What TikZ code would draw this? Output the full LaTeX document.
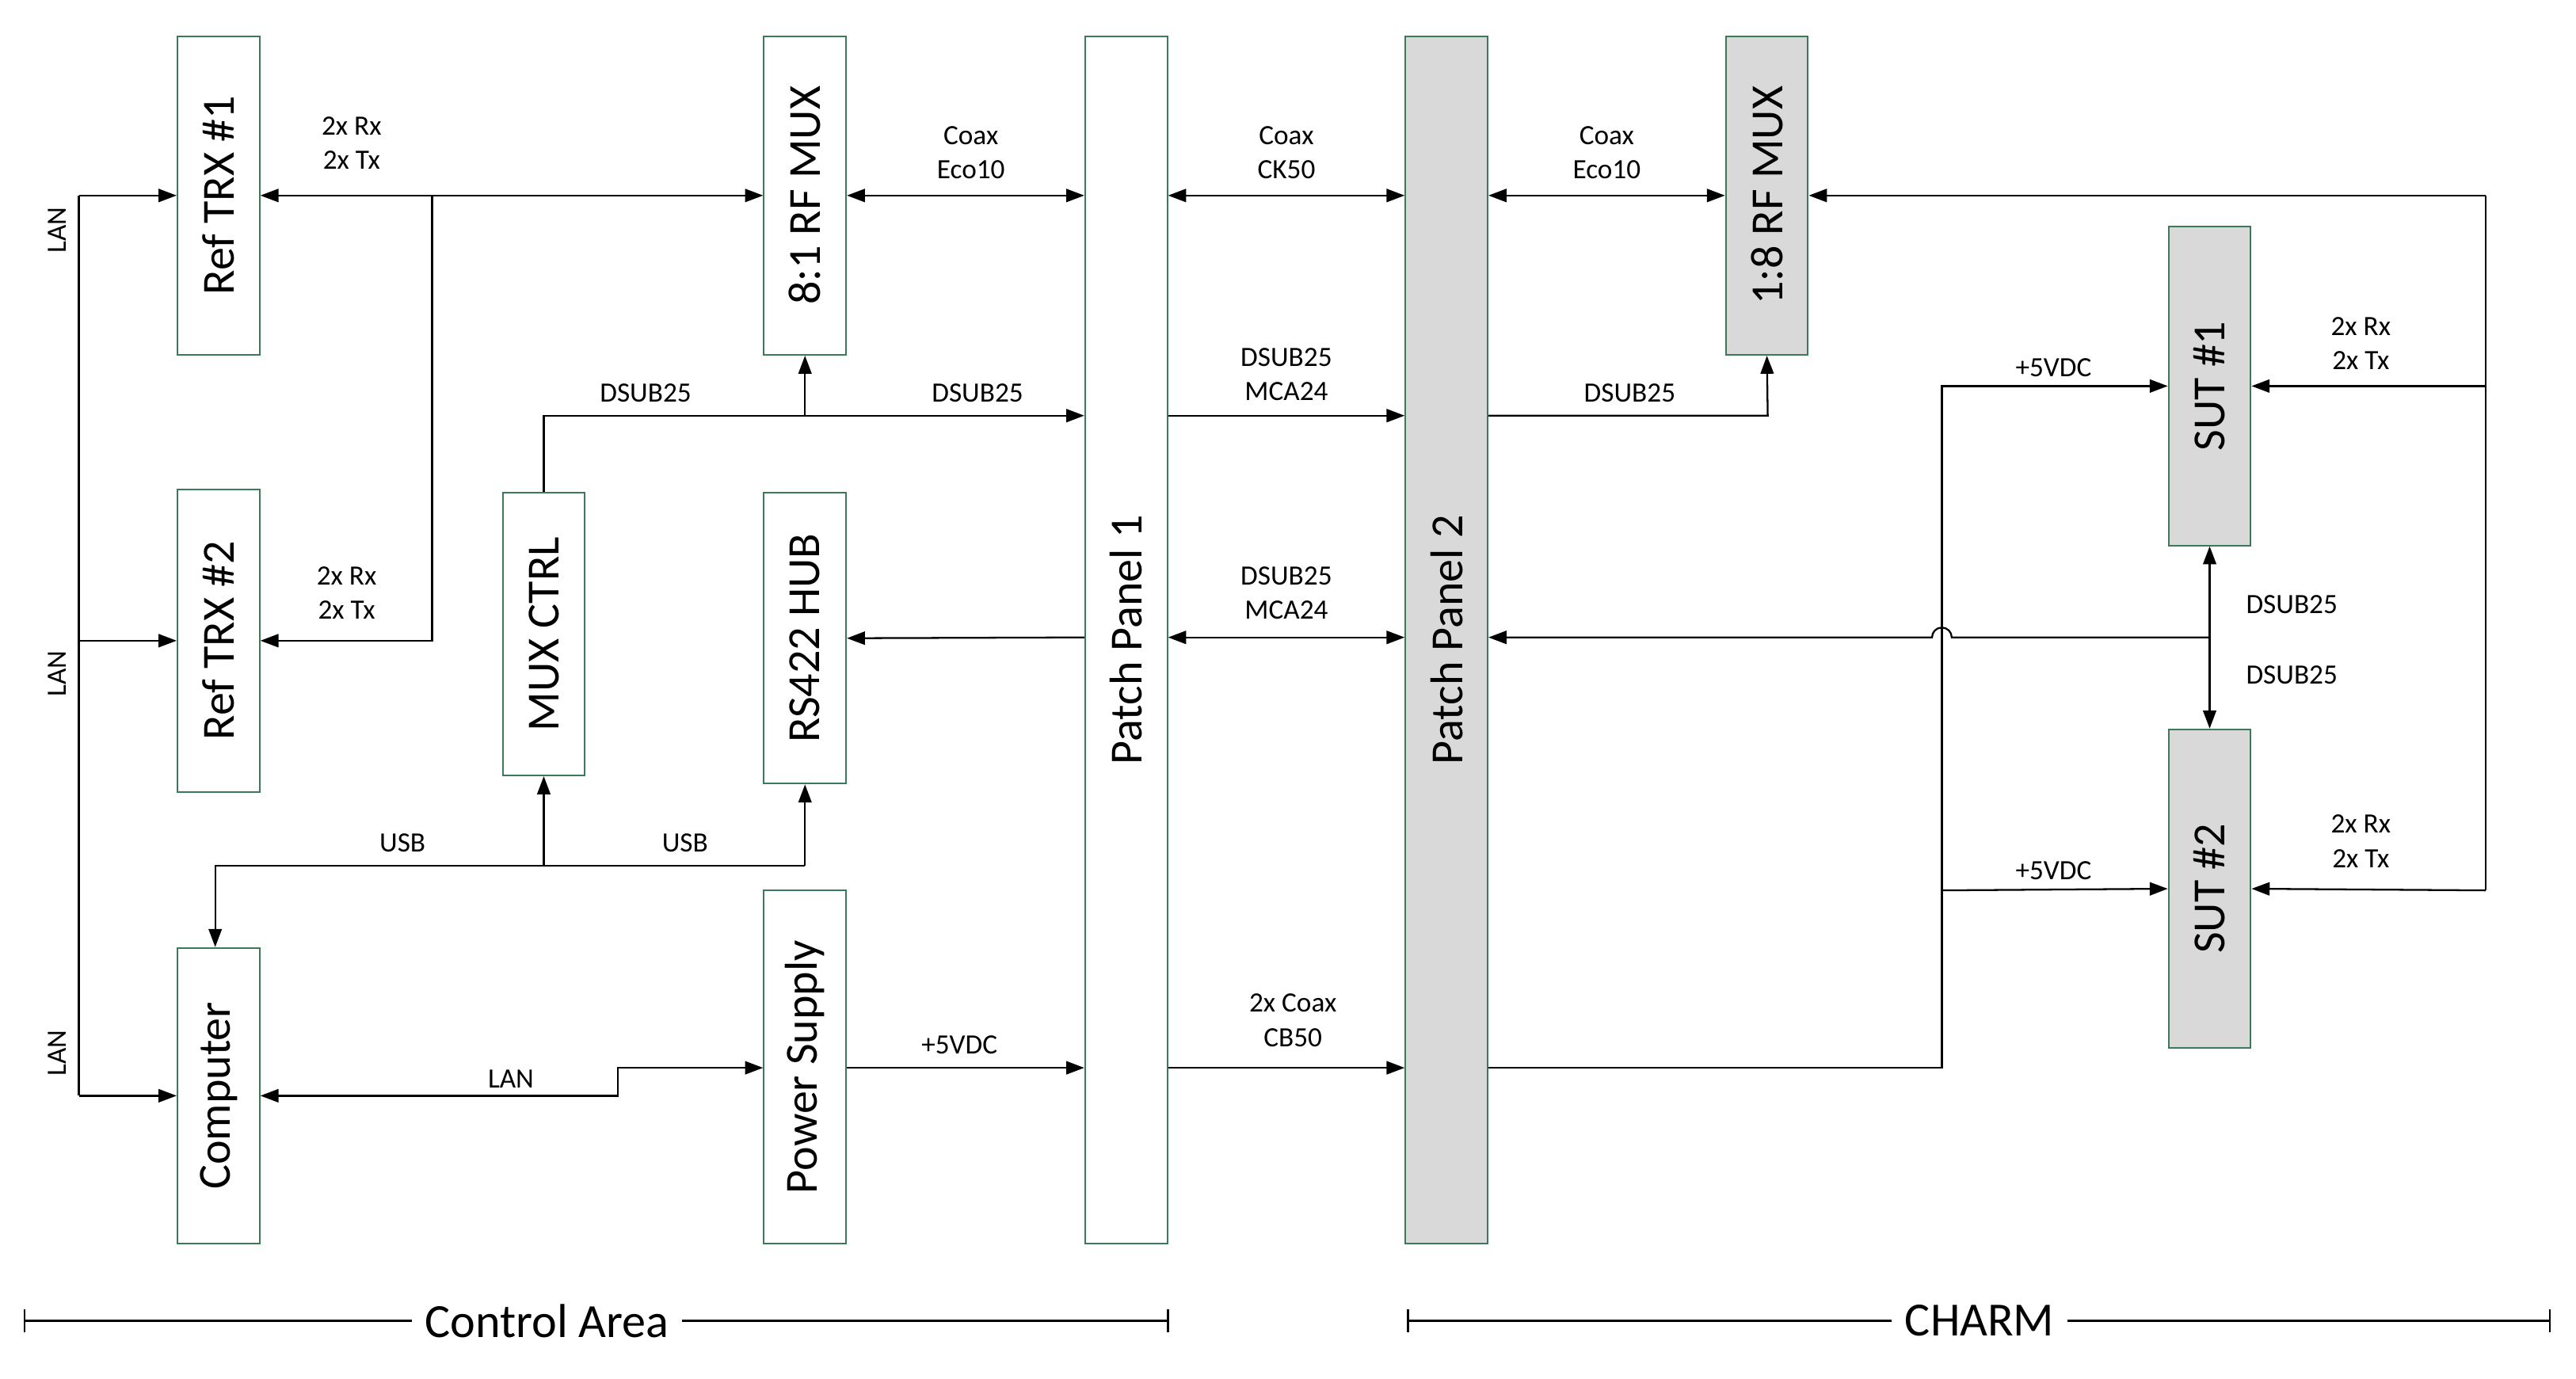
\documentclass[tikz,border=0pt]{standalone}
\usepackage{fontspec}
\setmainfont{Carlito}
\usetikzlibrary{arrows.meta}
\definecolor{bgreen}{RGB}{60,120,90}
\definecolor{bgray}{RGB}{217,217,217}
\begin{document}
\begin{tikzpicture}[x=1pt,y=-1pt,
  box/.style={draw=bgreen,line width=1pt,inner sep=0pt,minimum width=50pt,font=\fontsize{28}{30}\selectfont},
  gbox/.style={box,fill=bgray},
  con/.style={line width=1.1pt},
  ar/.style={con,-{Triangle[length=11pt,width=8pt]}},
  dar/.style={con,{Triangle[length=11pt,width=8pt]}-{Triangle[length=11pt,width=8pt]}},
  lab/.style={font=\fontsize{17}{21}\selectfont,align=center,inner sep=0pt},
  big/.style={font=\fontsize{29}{32}\selectfont,fill=white,inner xsep=8pt}]
\useasboundingbox (0,0) rectangle (1568,839);
% boxes
\node[box,minimum height=194pt] (ref1) at (133,119) {\rotatebox{90}{Ref TRX \#1}};
\node[box,minimum height=184pt] (ref2) at (133,390) {\rotatebox{90}{Ref TRX \#2}};
\node[box,minimum height=180pt] (comp) at (133,667) {\rotatebox{90}{Computer}};
\node[box,minimum height=172pt] (mctrl) at (331,386) {\rotatebox{90}{MUX CTRL}};
\node[box,minimum height=194pt] (mux1) at (490,119) {\rotatebox{90}{8:1 RF MUX}};
\node[box,minimum height=177pt] (hub) at (490,388.5) {\rotatebox{90}{RS422 HUB}};
\node[box,minimum height=215pt] (ps) at (490,649.5) {\rotatebox{90}{Power Supply}};
\node[box,minimum height=735pt] (pp1) at (685.5,389.5) {\rotatebox{90}{Patch Panel 1}};
\node[gbox,minimum height=735pt] (pp2) at (880.5,389.5) {\rotatebox{90}{Patch Panel 2}};
\node[gbox,minimum height=194pt] (mux2) at (1075.5,119) {\rotatebox{90}{1:8 RF MUX}};
\node[gbox,minimum height=194pt] (sut1) at (1345,235) {\rotatebox{90}{SUT \#1}};
\node[gbox,minimum height=194pt] (sut2) at (1345,541) {\rotatebox{90}{SUT \#2}};
% LAN bus
\coordinate (lt) at (48,119);
\coordinate (lb) at (48,667);
\draw[con] (lt) -- (lb);
\draw[ar] (lt) -- (ref1.west);
\draw[ar] (48,390) -- (ref2.west);
\draw[ar] (lb) -- (comp.west);
\node[lab,rotate=90] (lan1) at (35,140) {LAN};
\node[lab,rotate=90] (lan2) at (35,410) {LAN};
\node[lab,rotate=90] (lan3) at (35,641) {LAN};
% RF
\draw[dar] (ref1.east) -- (mux1.west);
\coordinate (j1) at (263,119);
\draw[ar] (j1) -- (263,390) -- (ref2.east);
\node[lab] (l1) at (214,87) {2x Rx\\2x Tx};
\node[lab] (l2) at (211,361) {2x Rx\\2x Tx};
\draw[dar] (mux1.east) -- (pp1.west |- mux1.east);
\node[lab] (l3) at (591,93) {Coax\\Eco10};
\draw[dar] (pp1.east |- 0,119) -- (pp2.west |- 0,119);
\node[lab] (l4) at (783,93) {Coax\\CK50};
\draw[dar] (pp2.east |- 0,119) -- (mux2.west);
\node[lab] (l5) at (978,93) {Coax\\Eco10};
\coordinate (rr) at (1513,119);
\draw[ar] (rr) -- (mux2.east);
\draw[con] (rr) -- (1513,542);
\draw[ar] (1513,235) -- (sut1.east);
\draw[ar] (1513,542) -- (sut2.east);
\node[lab] (l6) at (1437,209) {2x Rx\\2x Tx};
\node[lab] (l7) at (1437,512) {2x Rx\\2x Tx};
% DSUB
\draw[ar] (mctrl.north) -- (331,253) -- (pp1.west |- 0,253);
\draw[ar] (490,253) -- (mux1.south);
\node[lab] (l8) at (393,239) {DSUB25};
\node[lab] (l9) at (595,239) {DSUB25};
\draw[ar] (pp1.east |- 0,253) -- (pp2.west |- 0,253);
\node[lab] (l10) at (783,228) {DSUB25\\MCA24};
\draw[ar] (pp2.east |- 0,253) -- (1076,253) -- (mux2.south);
\node[lab] (l11) at (992,239) {DSUB25};
\draw[ar] (pp1.west |- 0,388) -- (hub.east);
\draw[dar] (pp1.east |- 0,388) -- (pp2.west |- 0,388);
\node[lab] (l12) at (783,361) {DSUB25\\MCA24};
\draw[ar] (1345,388) -- (1188,388) arc[start angle=0,end angle=-180,radius=6] -- (pp2.east |- 0,388);
\draw[dar] (sut1.south) -- (sut2.north);
\node[lab] (l13) at (1395,368) {DSUB25};
\node[lab] (l14) at (1395,411) {DSUB25};
% USB
\draw[ar] (490,527) -- (131,527) -- (comp.north -| 131,0);
\draw[ar] (331,527) -- (mctrl.south);
\draw[ar] (490,527) -- (hub.south);
\node[lab] (l15) at (245,513) {USB};
\node[lab] (l16) at (417,513) {USB};
% power
\draw[dar] (comp.east) -- (376,667) -- (376,650) -- (ps.west |- 0,650);
\node[lab] (l17) at (311,657) {LAN};
\draw[ar] (ps.east |- 0,650) -- (pp1.west |- 0,650);
\node[lab] (l18) at (584,636) {+5VDC};
\draw[ar] (pp1.east |- 0,650) -- (pp2.west |- 0,650);
\node[lab] (l19) at (787,621) {2x Coax\\CB50};
\draw[ar] (pp2.east |- 0,650) -- (1182,650) -- (1182,235) -- (sut1.west);
\draw[ar] (1182,542) -- (sut2.west);
\node[lab] (l20) at (1250,224) {+5VDC};
\node[lab] (l21) at (1250,530) {+5VDC};
% bottom brackets
\draw[con] (15,797) -- (15,811) (15,804) -- (711,804) (711,797) -- (711,811);
\node[big] (ca) at (333,804) {Control Area};
\draw[con] (857,797) -- (857,811) (857,804) -- (1552,804) (1552,797) -- (1552,811);
\node[big] (ch) at (1205,804) {CHARM};
\end{tikzpicture}
\end{document}
